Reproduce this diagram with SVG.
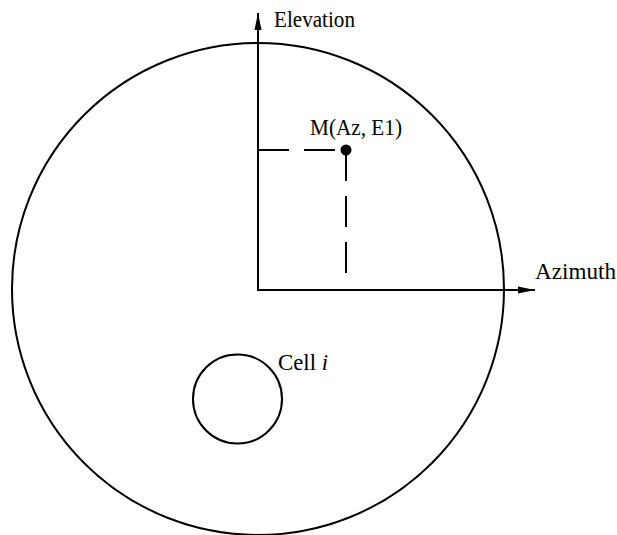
<svg xmlns="http://www.w3.org/2000/svg" width="617" height="535" viewBox="0 0 617 535">
<style>
.ln{fill:none;stroke:#000;stroke-width:2}
.dash{fill:none;stroke:#000;stroke-width:2;stroke-dasharray:31 15}
text{font-family:"Liberation Serif","Times New Roman",serif;font-size:23px;fill:#000}
</style>
<defs>
<marker id="arr" markerWidth="18" markerHeight="10" refX="17" refY="5" orient="auto" markerUnits="userSpaceOnUse">
<path d="M0,1.5 L17,5 L0,8.5 Z" fill="#000"/>
</marker>
</defs>
<rect width="617" height="535" fill="#fff"/>
<g id="region">
<circle class="ln" cx="258" cy="289" r="246"/>
</g>
<g id="cell">
<circle class="ln" cx="237.5" cy="399" r="44.5"/>
<text x="278" y="370" textLength="50" lengthAdjust="spacingAndGlyphs">Cell <tspan font-style="italic">i</tspan></text>
</g>
<g id="point">
<circle cx="346" cy="150" r="5.5" fill="#000"/>
<text x="310" y="135" textLength="92" lengthAdjust="spacingAndGlyphs">M(Az, E1)</text>
</g>
<g id="connectors">
<line class="ln" x1="258" y1="290" x2="258" y2="13" marker-end="url(#arr)"/>
<line class="ln" x1="257" y1="290" x2="535" y2="290" marker-end="url(#arr)"/>
<line class="dash" x1="258" y1="150" x2="346" y2="150"/>
<line class="dash" x1="346" y1="150" x2="346" y2="277"/>
</g>
<g id="labels">
<text x="274" y="27" textLength="81" lengthAdjust="spacingAndGlyphs">Elevation</text>
<text x="535" y="279" textLength="81" lengthAdjust="spacingAndGlyphs">Azimuth</text>
</g>
</svg>
